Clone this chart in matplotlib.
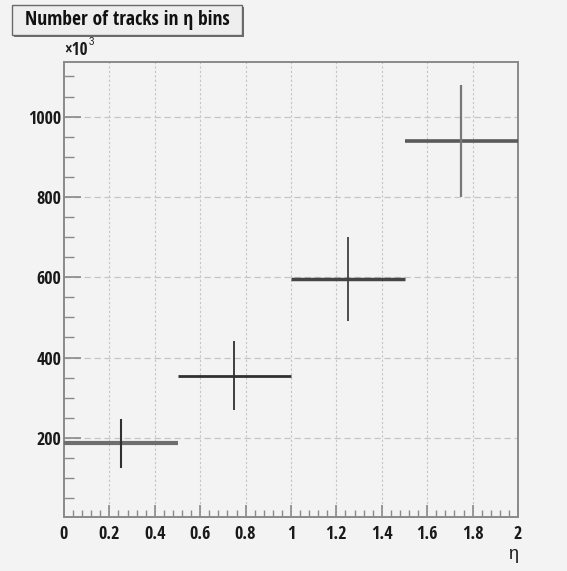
import matplotlib
matplotlib.use("Agg")
import matplotlib.pyplot as plt
from matplotlib import font_manager as fm
from matplotlib.patches import Rectangle
from matplotlib.textpath import TextPath
from matplotlib.ticker import MultipleLocator, FuncFormatter
import numpy as np

# Track counts per eta bin
bin_edges = [0.0, 0.5, 1.0, 1.5, 2.0]
counts = [187e3, 355e3, 596e3, 939e3]
count_errors = [61e3, 86e3, 105e3, 139e3]
x_ticks = [0, 0.2, 0.4, 0.6, 0.8, 1.0, 1.2, 1.4, 1.6, 1.8, 2.0]
x_tick_labels = ["0", "0.2", "0.4", "0.6", "0.8", "1", "1.2", "1.4", "1.6", "1.8", "2"]
y_ticks = [200e3, 400e3, 600e3, 800e3, 1000e3]

SANS = ("Liberation Sans", "Roboto", "Open Sans", "Noto Sans", "Lato", "Inter", "DejaVu Sans")


def _weight(w):
    if isinstance(w, str):
        return {"bold": 700, "heavy": 800, "black": 900, "semibold": 600,
                "demibold": 600, "extra bold": 800}.get(w.lower(), 400)
    return int(w)


def _aspect(fname):
    # width of "1000" relative to digit height: smaller means narrower
    try:
        p = fm.FontProperties(fname=fname, size=100)
        w = TextPath((0, 0), "1000", prop=p).get_extents().width
        h = TextPath((0, 0), "0", prop=p).get_extents().height
        return w / h
    except Exception:
        return 99.0


def _has_eta(fname):
    try:
        return fm.get_font(fname).get_char_index(ord("η")) != 0
    except Exception:
        return False


# narrowest bold face from the common sans families, condensed cuts included
cands = [f for f in fm.fontManager.ttflist
         if f.name.startswith(SANS) and "Mono" not in f.name and f.style == "normal"
         and 600 <= _weight(f.weight) <= 800 and _has_eta(f.fname)]
cands = sorted(cands, key=lambda f: _aspect(f.fname))
if cands:
    BOLD = fm.FontProperties(fname=cands[0].fname)
    asp = _aspect(cands[0].fname)
else:
    BOLD = fm.FontProperties(family=["DejaVu Sans"], weight="bold")
    asp = 3.2
plt.rcParams["font.family"] = ["Liberation Sans", "DejaVu Sans"]


def fp(size):
    p = BOLD.copy()
    p.set_size(size)
    return p


W, H = 567, 571
fig = plt.figure(figsize=(W / 100, H / 100), dpi=100, facecolor="#f3f3f3")
ax = fig.add_axes([64 / W, 1 - 517 / H, 454 / W, 455 / H])
ax.set_facecolor("#f3f3f3")

edges = np.array(bin_edges)
centers = 0.5 * (edges[:-1] + edges[1:])
vals = np.array(counts)
errs = np.array(count_errors)

ax.set_xlim(0, 2)
ax.set_ylim(3e3, 1136e3)

# grid
for xv in x_ticks[1:-1]:
    ax.axvline(xv, color="#c4c4c4", lw=0.8, ls=(0, (2, 2)), zorder=1)
for yv in y_ticks:
    ax.axhline(yv, color="#c4c4c4", lw=0.9, ls=(0, (5, 3)), zorder=1)

# bin markers: horizontal bin width and vertical error
h_colors = ["#6e6e6e", "#303030", "#454545", "#5a5a5a"]
h_widths = [3.0, 2.0, 2.5, 2.6]
v_colors = ["#303030", "#303030", "#404040", "#777777"]
v_widths = [1.5, 1.3, 1.3, 1.6]
for i in range(len(vals)):
    ax.hlines(vals[i], edges[i], edges[i + 1], color=h_colors[i], lw=h_widths[i], zorder=3)
    ax.vlines(centers[i], vals[i] - errs[i], vals[i] + errs[i], color=v_colors[i], lw=v_widths[i], zorder=3)

# axes styling
for s in ax.spines.values():
    s.set_color("#8a8a8a")
    s.set_linewidth(1.4)

ax.set_xticks(x_ticks)
ax.set_xticklabels(x_tick_labels)
ax.xaxis.set_minor_locator(MultipleLocator(0.04))
ax.set_yticks(y_ticks)
ax.yaxis.set_major_formatter(FuncFormatter(lambda v, p: f"{v / 1e3:.0f}"))
ax.yaxis.set_minor_locator(MultipleLocator(50e3))

ax.tick_params(axis="both", which="both", direction="in", color="#8a8a8a",
               top=False, right=False)
ax.tick_params(axis="y", which="major", length=12, width=1.2, pad=2)
ax.tick_params(axis="y", which="minor", length=7, width=1.0)
ax.tick_params(axis="x", which="major", length=9, width=1.2, pad=6)
ax.tick_params(axis="x", which="minor", length=5, width=1.0)

# size labels so that "1000" is about 36 px wide, capped near 13 px digit height
tick_size = min(13.0, 36 / asp / 0.72 / (100 / 72))
tick_size = max(tick_size, 10.0)
tick_fp = fp(tick_size)
for lab in ax.get_xticklabels() + ax.get_yticklabels():
    lab.set_fontproperties(tick_fp)
    lab.set_color("#1a1a1a")

ax.set_xlabel("η", loc="right", fontsize=13, labelpad=2, color="#1a1a1a")
renderer = fig.canvas.get_renderer()
mult = ax.text(0.0, 1.006, "×10", transform=ax.transAxes, ha="left", va="bottom",
               fontproperties=fp(tick_size * 0.95), color="#1a1a1a")
bb = mult.get_window_extent(renderer).transformed(ax.transAxes.inverted())
ax.text(bb.x1 + 0.002, bb.y1 - 0.012, "3", transform=ax.transAxes, ha="left", va="bottom",
        fontsize=7, color="#1a1a1a")

# title box with shadow
bx, by, bw, bh = 12 / W, 1 - 35 / H, 230 / W, 30 / H
fig.patches.append(Rectangle((bx + 2 / W, by - 2 / H), bw, bh, transform=fig.transFigure,
                             facecolor="#6a6a6a", edgecolor="none", zorder=1))
fig.patches.append(Rectangle((bx, by), bw, bh, transform=fig.transFigure,
                             facecolor="#eeeeee", edgecolor="#6a6a6a", lw=1.0, zorder=2))
title = fig.text(bx + bw / 2, by + bh / 2, "Number of tracks in η bins", ha="center", va="center",
                 fontproperties=fp(15), color="#111111", zorder=3)
tw = title.get_window_extent(renderer).width
if tw > 205:
    title.set_fontsize(15 * 205 / tw)

fig.savefig("out.png", dpi=100, facecolor=fig.get_facecolor())
